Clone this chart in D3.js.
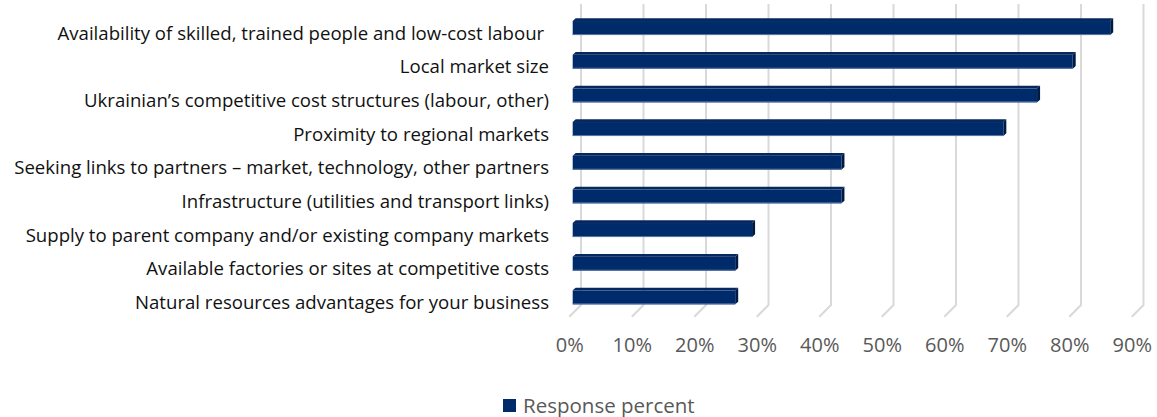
<!DOCTYPE html>
<html>
<head>
<meta charset="utf-8">
<script src="https://cdn.jsdelivr.net/npm/d3@7"></script>
<style>
  html, body { margin: 0; padding: 0; background: #fff; }
  svg { display: block; }
</style>
</head>
<body>
<svg id="chart" width="1157" height="417"></svg>
<script>
// Reasons for investing — share of respondents
const categories = [
  "Availability of skilled, trained people and low-cost labour\u00a0",
  "Local market size",
  "Ukrainian\u2019s competitive cost structures (labour, other)",
  "Proximity to regional markets",
  "Seeking links to partners \u2013 market, technology, other partners",
  "Infrastructure (utilities and transport links)",
  "Supply to parent company and/or existing company markets",
  "Available factories or sites at competitive costs",
  "Natural resources advantages for your business"
];
const responsePercent = [0.86, 0.80, 0.743, 0.689, 0.43, 0.43, 0.287, 0.26, 0.26];
const tickValues = [0, 0.1, 0.2, 0.3, 0.4, 0.5, 0.6, 0.7, 0.8, 0.9];
const seriesName = "Response percent";

const svg = d3.select("#chart");

// 3D geometry: back wall, bar plane and floor front edge are offset diagonally
const depth = { dx: -11.7, dy: 11.7 };
const xBack  = d3.scaleLinear().domain([0, 0.9]).range([581, 1143.5]);
const xBar   = d3.scaleLinear().domain([0, 0.9]).range([572.7, 1135.2]);
const xFloor = d3.scaleLinear().domain([0, 0.9]).range([569.3, 1131.8]);

const y = d3.scaleBand()
  .domain(categories)
  .range([4.2, 321.2])
  .paddingInner(0.584)
  .paddingOuter(0.5);

const wallTop = 4, wallBottom = 305;

// gridlines: vertical on the back wall, then slanting across the floor
const grid = svg.append("g").attr("class", "grid");
grid.selectAll("path")
  .data(tickValues)
  .join("path")
  .attr("d", d => {
    const xb = xBack(d);
    return `M${xb},${wallTop}L${xb},${wallBottom}L${xb + depth.dx},${wallBottom + depth.dy}`;
  })
  .attr("fill", "none")
  .attr("stroke", "#d9d9d9")
  .attr("stroke-width", 2);

// bars
const topDepth = { dx: 3, dy: -2.7 };
const bars = svg.append("g").attr("class", "bars");
const barG = bars.selectAll("g")
  .data(categories.map((c, i) => ({ c, v: responsePercent[i] })))
  .join("g");

barG.append("path") // top face
  .attr("d", d => {
    const x0 = xBar(0), x1 = xBar(d.v), t = y(d.c);
    return `M${x0},${t}L${x0 + topDepth.dx},${t + topDepth.dy}L${x1 + topDepth.dx},${t + topDepth.dy}L${x1},${t}Z`;
  })
  .attr("fill", "#06285f");

barG.append("path") // end face
  .attr("d", d => {
    const x1 = xBar(d.v), t = y(d.c), b = t + y.bandwidth();
    return `M${x1},${t}L${x1 + topDepth.dx},${t + topDepth.dy}L${x1 + topDepth.dx},${b + topDepth.dy}L${x1},${b}Z`;
  })
  .attr("fill", "#001a44");

barG.append("rect") // front face
  .attr("x", xBar(0))
  .attr("y", d => y(d.c))
  .attr("width", d => xBar(d.v) - xBar(0))
  .attr("height", y.bandwidth())
  .attr("fill", "#002b6b");

barG.append("line") // light lower edge
  .attr("x1", xBar(0))
  .attr("x2", d => xBar(d.v))
  .attr("y1", d => y(d.c) + y.bandwidth() - 0.5)
  .attr("y2", d => y(d.c) + y.bandwidth() - 0.5)
  .attr("stroke", "#5a78a6")
  .attr("stroke-width", 1);

// category labels
svg.append("g").attr("class", "labels")
  .selectAll("text")
  .data(categories)
  .join("text")
  .attr("x", 549)
  .attr("y", d => y(d) + y.bandwidth() / 2 + 6.5)
  .attr("text-anchor", "end")
  .attr("dominant-baseline", "middle")
  .attr("font-family", "'Open Sans', sans-serif")
  .attr("font-size", 18.6)
  .attr("fill", "#111")
  .text(d => d);

// value axis along the floor front edge
const axis = d3.axisBottom(xFloor)
  .tickValues(tickValues)
  .tickFormat(d3.format(".0%"))
  .tickSize(0)
  .tickPadding(0);
const axisG = svg.append("g")
  .attr("transform", "translate(0,352)")
  .call(axis);
axisG.select(".domain").remove();
axisG.selectAll("text")
  .attr("dy", 0)
  .attr("font-family", "'Open Sans', sans-serif")
  .attr("font-size", 20)
  .attr("fill", "#595959");

// legend
const legend = svg.append("g").attr("transform", "translate(503,399)");
legend.append("rect")
  .attr("width", 13).attr("height", 13)
  .attr("fill", "#002b6b");
legend.append("text")
  .attr("x", 20).attr("y", 13.5)
  .attr("font-family", "'Open Sans', sans-serif")
  .attr("font-size", 20.5)
  .attr("fill", "#595959")
  .text(seriesName);
</script>
</body>
</html>
